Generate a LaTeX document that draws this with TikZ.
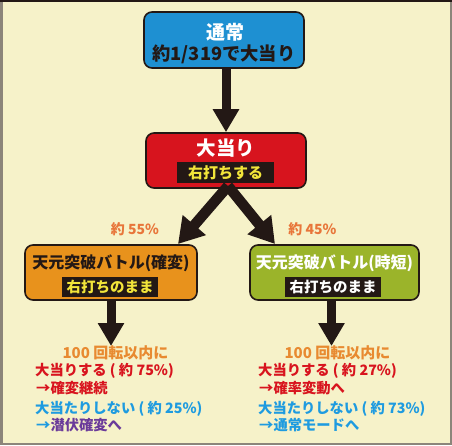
\documentclass[tikz,border=0pt]{standalone}
\usepackage{fontspec}
\setmainfont{Noto Sans CJK JP}
\usetikzlibrary{arrows.meta,calc}
\definecolor{bg}{HTML}{F6F2C9}
\definecolor{frm}{HTML}{8C857A}
\definecolor{cblue}{HTML}{1E90D2}
\definecolor{cred}{HTML}{D7141E}
\definecolor{corange}{HTML}{E8921C}
\definecolor{cgreen}{HTML}{9BB42A}
\definecolor{cyel}{HTML}{F2E53A}
\definecolor{ink}{HTML}{231815}
\definecolor{tor}{HTML}{E8763A}
\definecolor{tor2}{HTML}{E88A30}
\definecolor{tred}{HTML}{D8141E}
\definecolor{tblue}{HTML}{1E9BE0}
\definecolor{tpur}{HTML}{6A3A9A}
\tikzset{
  box/.style={draw=ink, line width=1.6pt, rounded corners=8pt, minimum height=55pt},
  ttl/.style={font=\bfseries\fontsize{16}{18}\selectfont, inner sep=0pt},
  lbl/.style={fill=ink, minimum width=96pt, minimum height=20pt, inner sep=0pt, font=\bfseries\fontsize{14.5}{16}\selectfont},
  bigarrow/.style={draw=ink, line width=9pt, -{Triangle[length=23pt, width=25pt]}, shorten >=0pt},
  diagarrow/.style={draw=ink, line width=10.5pt, -{Triangle[length=25pt, width=29pt]}, shorten >=0pt},
  note/.style={font=\bfseries\fontsize{14.3}{16}\selectfont, inner sep=0pt, anchor=west},
  pct/.style={font=\bfseries\fontsize{14}{16}\selectfont, text=tor, inner sep=0pt}
}
\begin{document}
\begin{tikzpicture}[x=1pt,y=-1pt]
\useasboundingbox (0,0) rectangle (452,445);
\fill[bg] (0,0) rectangle (452,445);
\fill[frm] (0,0) rectangle (2.5,445);
\fill[frm] (449.5,0) rectangle (452,445);
\fill[frm] (0,442.5) rectangle (452,445);
\fill[ink] (0,0) rectangle (452,1.5);

% boxes
\node[box, fill=cblue, minimum width=160pt, minimum height=56pt] (top) at (224,40) {};
\node[ttl, text=white, font=\bfseries\fontsize{19}{20}\selectfont] (topt) at (225,32) {通常};
\node[ttl, text=ink, font=\bfseries\fontsize{18.3}{20}\selectfont] (topb) at (224,54) {約1/319で大当り};

\node[box, fill=cred, minimum width=160pt] (hit) at (226,160.5) {};
\node[ttl, text=white, font=\bfseries\fontsize{19.5}{20}\selectfont] (hitt) at (226,148.5) {大当り};
\node[lbl, text=cyel, minimum width=97pt, minimum height=21pt, font=\bfseries\fontsize{15}{16}\selectfont] (hitl) at (225.5,172.5) {右打ちする};

\node[box, fill=corange, minimum width=172pt] (kak) at (111,272.5) {};
\node[ttl, text=ink] (kakt) at (111,263) {天元突破バトル(確変)};
\node[lbl, text=cyel] (kakl) at (110,286.5) {右打ちのまま};

\node[box, fill=cgreen, minimum width=169pt] (jit) at (334.5,272.5) {};
\node[ttl, text=white] (jitt) at (334.5,263) {天元突破バトル(時短)};
\node[lbl, text=white] (jitl) at (333,286.5) {右打ちのまま};

% arrows
\coordinate (mainx) at (226,0);
\coordinate (split) at (228,186);
\coordinate (ltip) at (178,244);
\coordinate (rtip) at (275,244);
\coordinate (kakend) at (111,346);
\coordinate (jitend) at (331.5,346);
\draw[bigarrow] (top.south -| mainx) -- (hit.north -| mainx);
\draw[diagarrow] (split) -- (ltip);
\draw[diagarrow] (split) -- (rtip);
\draw[bigarrow] (kak.south -| kakend) -- (kakend);
\draw[bigarrow] (jit.south -| jitend) -- (jitend);

% percentages
\node[pct] (p55) at (135,229) {約 55\%};
\node[pct] (p45) at (312.5,229) {約 45\%};

% left notes
\node[note, anchor=center, text=tor2, font=\bfseries\fontsize{15}{16}\selectfont] (l1) at (115.5,353) {100 回転以内に};
\node[note, text=tred] (l2) at (35,371) {大当りする ( 約 75\%)};
\node[note, text=tred] (l3) at (36,388) {→確変継続};
\node[note, text=tblue] (l4) at (35,409) {大当たりしない ( 約 25\%)};
\node[note, text=tpur] (l5) at (36,425.5) {{\color{tblue}→}潜伏確変へ};

% right notes
\node[note, anchor=center, text=tor2, font=\bfseries\fontsize{15}{16}\selectfont] (r1) at (337.5,353) {100 回転以内に};
\node[note, text=tred] (r2) at (258,371) {大当りする ( 約 27\%)};
\node[note, text=tred] (r3) at (259,388) {→確率変動へ};
\node[note, text=tblue] (r4) at (258,409) {大当たりしない ( 約 73\%)};
\node[note, text=tblue] (r5) at (259,425.5) {→通常モードへ};
\end{tikzpicture}
\end{document}
